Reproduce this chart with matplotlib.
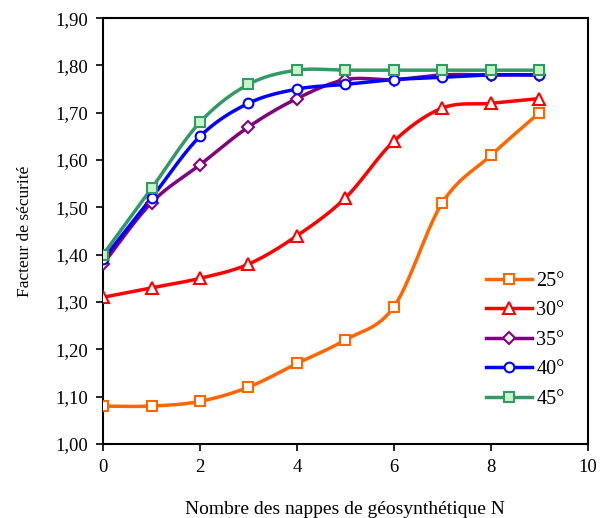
import numpy as np
import matplotlib
matplotlib.use("Agg")
import matplotlib.pyplot as plt
from matplotlib.ticker import FuncFormatter

plt.rcParams['font.family'] = ['Liberation Serif', 'DejaVu Serif']

N = [0, 1, 2, 3, 4, 5, 6, 7, 8, 9]
labels = ["25°", "30°", "35°", "40°", "45°"]
fs_25 = [1.08, 1.08, 1.09, 1.12, 1.17, 1.22, 1.29, 1.51, 1.61, 1.70]
fs_30 = [1.31, 1.33, 1.35, 1.38, 1.44, 1.52, 1.64, 1.71, 1.72, 1.73]
fs_35 = [1.38, 1.51, 1.59, 1.67, 1.73, 1.77, 1.77, 1.78, 1.78, 1.78]
fs_40 = [1.39, 1.52, 1.65, 1.72, 1.75, 1.76, 1.77, 1.775, 1.78, 1.78]
fs_45 = [1.40, 1.54, 1.68, 1.76, 1.79, 1.79, 1.79, 1.79, 1.79, 1.79]
series = [fs_25, fs_30, fs_35, fs_40, fs_45]

colors = ["#FF6600", "#FF0000", "#800080", "#0000FF", "#339966"]
faces = ["white", "white", "white", "white", "#C8F5C8"]
markers = ["s", "^", "D", "o", "s"]
msizes = [7, 8, 6, 7, 7]


def smooth(x, y, n=20):
    x = np.asarray(x, float)
    y = np.asarray(y, float)
    P = np.column_stack([x, y])
    out = [P[0]]
    m = len(P)
    t = np.linspace(0, 1, n + 1)[1:]
    for i in range(m - 1):
        p0 = P[i - 1] if i > 0 else P[i]
        p1 = P[i]
        p2 = P[i + 1]
        p3 = P[i + 2] if i + 2 < m else P[i + 1]
        c1 = p1 + (p2 - p0) / 6.0
        c2 = p2 - (p3 - p1) / 6.0
        for tt in t:
            b = ((1 - tt) ** 3) * p1 + 3 * ((1 - tt) ** 2) * tt * c1 + 3 * (1 - tt) * tt ** 2 * c2 + tt ** 3 * p2
            out.append(b)
    out = np.array(out)
    return out[:, 0], out[:, 1]


fig = plt.figure(figsize=(6.06, 5.18), dpi=100)
ax = fig.add_axes([0.170, 0.143, 0.800, 0.822])

for y, lab, c, fc, mk, ms in zip(series, labels, colors, faces, markers, msizes):
    sx, sy = smooth(N, y)
    ax.plot(sx, sy, color=c, lw=2.5, zorder=2)
    ax.plot(N, y, linestyle='none', marker=mk, markersize=ms, markerfacecolor=fc,
            markeredgecolor=c, markeredgewidth=1.5, zorder=3)
    ax.plot([], [], color=c, lw=2.5, marker=mk, markersize=ms, markerfacecolor=fc,
            markeredgecolor=c, markeredgewidth=1.5, label=lab)

ax.set_xlim(0, 10)
ax.set_ylim(1.0, 1.9)
ax.set_xticks(np.arange(0, 11, 2))
ax.set_yticks(np.arange(1.0, 1.91, 0.1))
ax.yaxis.set_major_formatter(FuncFormatter(lambda v, p: f"{v:.2f}".replace('.', ',')))
ax.tick_params(direction='out', length=5, width=1.2, labelsize=13.5, pad=6)
for s in ax.spines.values():
    s.set_linewidth(1.5)
    s.set_color('black')

ax.set_xlabel("Nombre des nappes de géosynthétique N", fontsize=14, labelpad=18)
ax.set_ylabel("Facteur de sécurité", fontsize=12.5, labelpad=16)

leg = ax.legend(loc='upper left', bbox_to_anchor=(0.79, 0.405), frameon=False, fontsize=14.5,
                handlelength=2.3, labelspacing=0.52, handletextpad=0.2,
                borderpad=0, borderaxespad=0)

fig.savefig("out.png", dpi=100)
